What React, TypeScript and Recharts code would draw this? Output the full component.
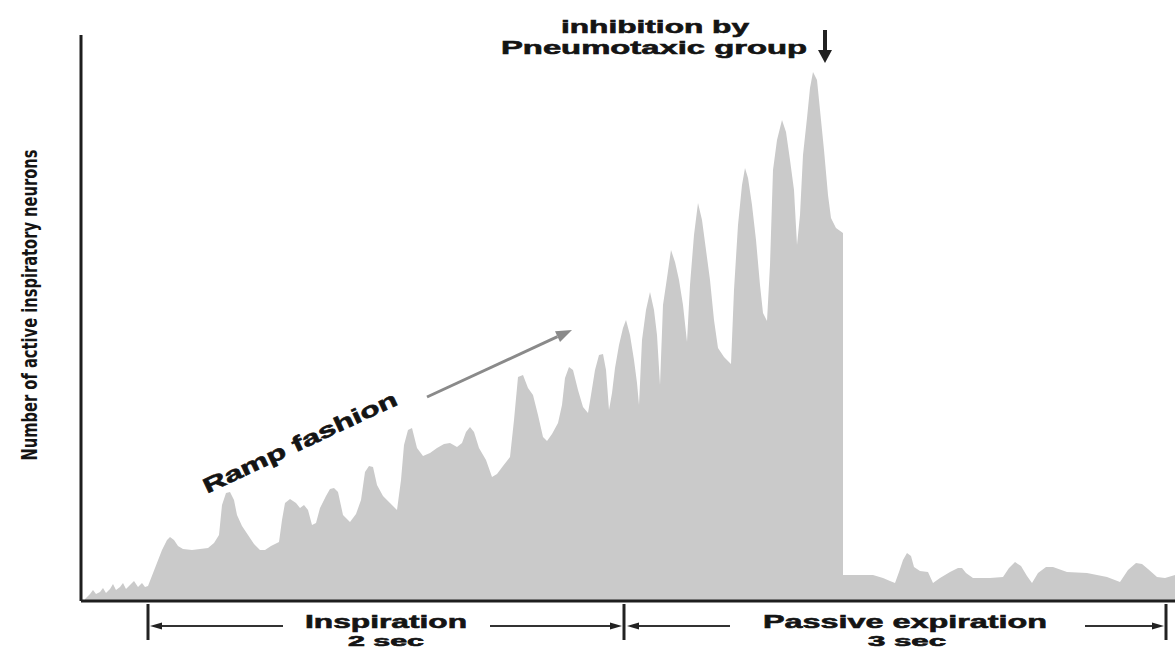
import { Area, AreaChart, ReferenceLine, XAxis, YAxis } from "recharts"

// time (arbitrary units from the vertical axis) and active-neuron level
const inspT = [4, 9, 12, 15, 19, 22, 25, 29, 32, 35, 39, 42, 45, 49, 53, 57, 61, 64, 67, 74, 81, 86, 89, 93, 97, 102, 111, 119, 127, 133, 138, 141, 145, 149, 153, 156, 161, 167, 173, 179, 184, 190, 198, 201, 204, 209, 215, 219, 223, 227, 231, 235, 239, 245, 249, 253, 257, 262, 269, 275, 280, 284, 288, 292, 296, 302, 309, 316, 320, 323, 327, 331, 336, 342, 349, 356, 363, 369, 376, 381, 385, 389, 393, 398, 405, 411, 416, 422, 429, 433, 437, 442, 447, 452, 457, 462, 466, 471, 477, 481, 484, 488, 492, 497, 502, 507, 510, 514, 518, 522, 525, 528, 531, 534, 538, 542, 545, 549, 553, 556, 558, 561, 565, 569, 573, 576, 579, 582, 586, 590, 594, 598, 602, 606, 609, 613, 617, 621, 625, 629, 633, 637, 643, 650, 653, 657, 661, 664, 667, 671, 675, 679, 682, 686, 689, 692, 696, 701, 705, 709, 713, 716, 719, 722, 726, 729, 732, 736, 739, 743, 747, 750, 755, 762]
const inspN = [2, 7, 11, 7, 9, 13, 8, 12, 17, 11, 14, 18, 12, 16, 20, 14, 18, 14, 15, 33, 51, 61, 64, 61, 55, 52, 51, 52, 53, 58, 66, 96, 108, 109, 101, 86, 75, 66, 57, 51, 51, 55, 59, 81, 98, 102, 98, 93, 96, 91, 76, 78, 93, 105, 112, 113, 109, 86, 79, 87, 101, 129, 135, 134, 116, 105, 98, 91, 121, 156, 171, 173, 153, 145, 148, 153, 157, 158, 154, 158, 169, 174, 169, 153, 141, 124, 127, 135, 144, 181, 224, 226, 213, 206, 186, 164, 160, 167, 178, 196, 223, 234, 231, 211, 194, 188, 206, 231, 246, 247, 231, 191, 208, 233, 256, 273, 281, 266, 241, 218, 196, 261, 291, 309, 291, 266, 216, 296, 323, 351, 339, 321, 296, 259, 316, 366, 398, 381, 351, 321, 281, 253, 244, 237, 311, 376, 416, 433, 423, 396, 361, 316, 288, 280, 336, 431, 461, 481, 469, 441, 411, 356, 386, 446, 483, 513, 529, 521, 491, 451, 406, 383, 373, 368]
const expT = [762, 772, 792, 802, 809, 814, 818, 822, 826, 830, 833, 839, 847, 852, 859, 869, 877, 881, 885, 892, 909, 922, 928, 934, 940, 946, 951, 957, 965, 972, 986, 1006, 1026, 1039, 1047, 1055, 1061, 1067, 1076, 1084, 1094]
const expN = [26, 26, 26, 23, 20, 18, 29, 41, 48, 45, 34, 30, 29, 18, 23, 29, 33, 33, 28, 23, 23, 24, 33, 39, 35, 25, 18, 28, 34, 34, 29, 28, 24, 19, 31, 38, 37, 32, 24, 23, 26]

const data = [
  ...inspT.map((t, i) => ({ t, n: inspN[i] })),
  ...expT.map((t, i) => ({ t, n: expN[i] })),
]

const ink = "#141414"
const heavy = { fontFamily: "'Liberation Sans', Arial, sans-serif", fontWeight: 700, fill: ink, stroke: ink, strokeWidth: 0.6 }

function Annotations() {
  return (
    <svg width={1175} height={648} style={{ position: "absolute", left: 0, top: 0, pointerEvents: "none" }}>
      <text
        transform="rotate(-90, 29, 305)"
        x={29}
        y={305}
        textAnchor="middle"
        dominantBaseline="central"
        fontSize={22}
        textLength={311}
        lengthAdjust="spacingAndGlyphs"
        style={{ fontFamily: "'Liberation Sans Narrow', 'DejaVu Sans Condensed', sans-serif", fontWeight: 700, fill: ink }}
      >
        Number of active inspiratory neurons
      </text>

      <text x={655} y={33} textAnchor="middle" fontSize={19} textLength={188} lengthAdjust="spacingAndGlyphs" style={heavy}>
        inhibition by
      </text>
      <text x={654} y={54} textAnchor="middle" fontSize={19} textLength={306} lengthAdjust="spacingAndGlyphs" style={heavy}>
        Pneumotaxic group
      </text>
      <line x1={825} y1={30} x2={825} y2={52} stroke="#222" strokeWidth={4} />
      <polygon points="818,50 832,50 825,63" fill="#222" />

      <g transform="translate(303,449) rotate(-25)">
        <text x={0} y={0} textAnchor="middle" fontSize={21} textLength={212} lengthAdjust="spacingAndGlyphs" style={heavy}>
          Ramp fashion
        </text>
      </g>
      <line x1={427} y1={397} x2={557.5} y2={336.7} stroke="#8a8a8a" strokeWidth={3} />
      <polygon points="572,330 560,342.1 555,331.3" fill="#8a8a8a" />

      {/* time brackets */}
      <g stroke="#222" strokeWidth={3}>
        <line x1={148} y1={604} x2={148} y2={640} />
        <line x1={624} y1={604} x2={624} y2={640} />
        <line x1={1166} y1={604} x2={1166} y2={640} />
      </g>
      <g stroke="#333" strokeWidth={2}>
        <line x1={158} y1={626} x2={283} y2={626} />
        <line x1={490} y1={626} x2={612} y2={626} />
        <line x1={636} y1={626} x2={730} y2={626} />
        <line x1={1085} y1={626} x2={1155} y2={626} />
      </g>
      <g fill="#222">
        <polygon points="150,626 162,622.5 162,629.5" />
        <polygon points="622,626 610,622.5 610,629.5" />
        <polygon points="627,626 639,622.5 639,629.5" />
        <polygon points="1164,626 1152,622.5 1152,629.5" />
      </g>

      <text x={386} y={628} textAnchor="middle" fontSize={19} textLength={162} lengthAdjust="spacingAndGlyphs" style={heavy}>
        Inspiration
      </text>
      <text x={386} y={646} textAnchor="middle" fontSize={14} textLength={76} lengthAdjust="spacingAndGlyphs" style={heavy}>
        2 sec
      </text>
      <text x={905} y={628} textAnchor="middle" fontSize={19} textLength={284} lengthAdjust="spacingAndGlyphs" style={heavy}>
        Passive expiration
      </text>
      <text x={907} y={646} textAnchor="middle" fontSize={14} textLength={78} lengthAdjust="spacingAndGlyphs" style={heavy}>
        3 sec
      </text>
    </svg>
  )
}

export default function App() {
  return (
    <div style={{ position: "absolute", left: 0, top: 0, width: 1175, height: 648, background: "#fff" }}>
      <AreaChart width={1175} height={648} data={data} margin={{ top: 35, right: 0, left: 81, bottom: 47 }}>
        <XAxis type="number" dataKey="t" domain={[0, 1094]} hide />
        <YAxis type="number" domain={[0, 566]} hide />
        <Area
          type="linear"
          dataKey="n"
          stroke="none"
          fill="#cacaca"
          fillOpacity={1}
          isAnimationActive={false}
        />
        {/* axis lines */}
        <ReferenceLine y={0} stroke="#1e1e1e" strokeWidth={3} ifOverflow="visible" />
        <ReferenceLine x={0} stroke="#1e1e1e" strokeWidth={3} ifOverflow="visible" />
      </AreaChart>
      <Annotations />
    </div>
  )
}
